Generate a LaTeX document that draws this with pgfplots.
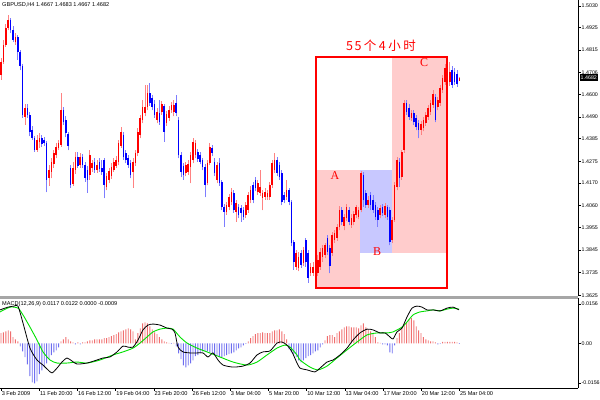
\documentclass[border=0pt]{standalone}
\usepackage{pgfplots}
\pgfplotsset{compat=1.18}
\usepackage{pgfplotstable}
\usepackage{fontspec}
\setmainfont{Liberation Sans}
\newfontfamily\cjk{Noto Sans CJK SC}
\newfontfamily\serifA{Liberation Serif}

\definecolor{barred}{RGB}{255,0,0}
\definecolor{barblue}{RGB}{0,0,255}
\definecolor{wickred}{RGB}{255,130,130}
\definecolor{wickblue}{RGB}{125,125,255}
\definecolor{histred}{RGB}{240,110,110}
\definecolor{histblue}{RGB}{110,110,240}
\definecolor{macdgreen}{RGB}{0,225,0}
\definecolor{zonepink}{RGB}{255,204,204}
\definecolor{zoneblue}{RGB}{200,200,255}

% no visible point marks, only the error bars that make the candles
\pgfplotsset{candle/.style={only marks, mark=*, mark size=0pt, mark options={draw=none, fill=none}}}

% GBPUSD H4 bars, x = bar position on the chart
% up bars (close >= open)
\pgfplotstableread{
x o h l c
1.0 1.4694 1.4777 1.4670 1.4757
3.4 1.4757 1.4864 1.4748 1.4840
5.8 1.4840 1.4942 1.4830 1.4922
8.2 1.4922 1.4985 1.4912 1.4961
15.4 1.4854 1.4898 1.4840 1.4878
25.0 1.4490 1.4553 1.4452 1.4534
37.0 1.4330 1.4403 1.4321 1.4379
39.4 1.4369 1.4413 1.4340 1.4388
49.0 1.4194 1.4257 1.4156 1.4233
51.4 1.4224 1.4291 1.4194 1.4272
53.8 1.4262 1.4330 1.4243 1.4316
56.2 1.4306 1.4364 1.4291 1.4345
58.6 1.4340 1.4379 1.4330 1.4364
61.0 1.4354 1.4607 1.4345 1.4524
73.0 1.4165 1.4272 1.4156 1.4243
75.4 1.4233 1.4321 1.4214 1.4296
80.2 1.4257 1.4316 1.4243 1.4296
89.8 1.4209 1.4330 1.4185 1.4306
92.2 1.4243 1.4282 1.4224 1.4267
97.0 1.4233 1.4282 1.4219 1.4257
106.6 1.4151 1.4219 1.4136 1.4204
109.0 1.4185 1.4243 1.4170 1.4228
111.4 1.4204 1.4267 1.4190 1.4248
113.8 1.4233 1.4291 1.4224 1.4272
116.2 1.4253 1.4301 1.4243 1.4282
118.6 1.4272 1.4379 1.4257 1.4364
121.0 1.4350 1.4442 1.4340 1.4418
133.0 1.4224 1.4291 1.4146 1.4272
135.4 1.4267 1.4330 1.4253 1.4316
137.8 1.4316 1.4437 1.4301 1.4418
140.2 1.4403 1.4500 1.4388 1.4486
142.6 1.4476 1.4573 1.4461 1.4539
145.0 1.4510 1.4646 1.4495 1.4539
147.4 1.4539 1.4646 1.4524 1.4607
157.0 1.4476 1.4534 1.4461 1.4515
161.8 1.4515 1.4568 1.4500 1.4553
166.6 1.4461 1.4519 1.4447 1.4505
169.0 1.4486 1.4544 1.4471 1.4524
171.4 1.4524 1.4563 1.4510 1.4549
173.8 1.4515 1.4573 1.4495 1.4549
185.8 1.4219 1.4272 1.4204 1.4257
188.2 1.4224 1.4282 1.4209 1.4262
190.6 1.4248 1.4321 1.4170 1.4306
193.0 1.4282 1.4388 1.4267 1.4369
195.4 1.4306 1.4379 1.4291 1.4364
207.4 1.4170 1.4282 1.4160 1.4267
209.8 1.4267 1.4364 1.4257 1.4345
217.0 1.4185 1.4272 1.4170 1.4257
226.6 1.4029 1.4078 1.4015 1.4063
229.0 1.4054 1.4117 1.4039 1.4102
231.4 1.4078 1.4146 1.4063 1.4126
236.2 1.4029 1.4088 1.3981 1.4073
245.8 1.4015 1.4078 1.4000 1.4063
248.2 1.4039 1.4126 1.4025 1.4112
250.6 1.4088 1.4156 1.4073 1.4136
257.8 1.4126 1.4185 1.4112 1.4170
260.2 1.4122 1.4233 1.4107 1.4151
262.6 1.4097 1.4136 1.4039 1.4122
265.0 1.4102 1.4146 1.4088 1.4126
267.4 1.4102 1.4136 1.4088 1.4122
269.8 1.4102 1.4175 1.4088 1.4160
272.2 1.4160 1.4282 1.4146 1.4267
274.6 1.4233 1.4316 1.4219 1.4282
286.6 1.4102 1.4185 1.4088 1.4136
296.2 1.3763 1.3845 1.3748 1.3830
298.6 1.3758 1.3835 1.3743 1.3811
303.4 1.3782 1.3860 1.3767 1.3845
310.6 1.3733 1.3782 1.3719 1.3763
313.0 1.3733 1.3787 1.3719 1.3763
317.8 1.3733 1.3821 1.3719 1.3797
320.2 1.3763 1.3855 1.3748 1.3835
322.6 1.3811 1.3869 1.3787 1.3855
325.0 1.3821 1.3879 1.3806 1.3869
332.2 1.3830 1.3932 1.3816 1.3918
334.6 1.3894 1.3942 1.3879 1.3927
337.0 1.3903 1.3971 1.3889 1.3957
339.4 1.3957 1.4059 1.3942 1.4039
344.2 1.3962 1.4020 1.3942 1.4005
346.6 1.4000 1.4068 1.3986 1.4054
351.4 1.3966 1.4020 1.3952 1.4000
353.8 1.3981 1.4034 1.3966 1.4020
356.2 1.4015 1.4063 1.4000 1.4054
358.6 1.4005 1.4054 1.3995 1.4039
361.0 1.4039 1.4228 1.4029 1.4219
368.2 1.4063 1.4107 1.4049 1.4088
380.2 1.4015 1.4063 1.4000 1.4049
385.0 1.4015 1.4073 1.4000 1.4059
392.2 1.3894 1.4005 1.3879 1.3991
394.6 1.3991 1.4175 1.3981 1.4160
397.0 1.4151 1.4296 1.4136 1.4282
401.8 1.4199 1.4330 1.4185 1.4321
404.2 1.4330 1.4573 1.4316 1.4558
411.4 1.4486 1.4524 1.4471 1.4510
421.0 1.4427 1.4471 1.4403 1.4456
423.4 1.4437 1.4490 1.4422 1.4476
425.8 1.4461 1.4515 1.4447 1.4500
428.2 1.4490 1.4549 1.4476 1.4534
430.6 1.4515 1.4573 1.4500 1.4558
433.0 1.4549 1.4621 1.4534 1.4602
437.8 1.4539 1.4587 1.4524 1.4573
440.2 1.4558 1.4646 1.4544 1.4631
442.6 1.4621 1.4694 1.4607 1.4680
445.0 1.4660 1.4748 1.4646 1.4728
449.8 1.4660 1.4757 1.4641 1.4709
459.4 1.4667 1.4683 1.4667 1.4682
}\upbars

% down bars (close < open)
\pgfplotstableread{
x o h l c
10.6 1.4961 1.4971 1.4898 1.4912
13.0 1.4912 1.4932 1.4854 1.4864
17.8 1.4878 1.4888 1.4767 1.4806
20.2 1.4806 1.4815 1.4718 1.4738
22.6 1.4738 1.4748 1.4486 1.4500
27.4 1.4534 1.4553 1.4486 1.4500
29.8 1.4500 1.4515 1.4398 1.4418
32.2 1.4427 1.4447 1.4379 1.4388
34.6 1.4388 1.4398 1.4321 1.4330
41.8 1.4388 1.4403 1.4345 1.4359
44.2 1.4379 1.4393 1.4350 1.4364
46.6 1.4364 1.4374 1.4126 1.4185
63.4 1.4524 1.4539 1.4452 1.4466
65.8 1.4476 1.4495 1.4393 1.4413
68.2 1.4408 1.4418 1.4330 1.4350
70.6 1.4243 1.4257 1.4146 1.4160
77.8 1.4296 1.4321 1.4243 1.4253
82.6 1.4296 1.4311 1.4243 1.4257
85.0 1.4257 1.4272 1.4175 1.4194
87.4 1.4233 1.4253 1.4122 1.4185
94.6 1.4272 1.4291 1.4219 1.4233
99.4 1.4272 1.4291 1.4224 1.4238
101.8 1.4243 1.4282 1.4209 1.4224
104.2 1.4282 1.4291 1.4097 1.4160
123.4 1.4403 1.4418 1.4282 1.4296
125.8 1.4316 1.4330 1.4267 1.4282
128.2 1.4291 1.4306 1.4243 1.4257
130.6 1.4267 1.4282 1.4194 1.4209
149.8 1.4607 1.4655 1.4544 1.4558
152.2 1.4583 1.4597 1.4524 1.4539
154.6 1.4553 1.4573 1.4486 1.4500
159.4 1.4510 1.4573 1.4452 1.4466
164.2 1.4544 1.4553 1.4369 1.4418
176.2 1.4558 1.4597 1.4495 1.4510
178.6 1.4476 1.4490 1.4291 1.4306
181.0 1.4306 1.4321 1.4199 1.4224
183.4 1.4253 1.4267 1.4185 1.4209
197.8 1.4321 1.4335 1.4272 1.4287
200.2 1.4306 1.4321 1.4262 1.4272
202.6 1.4282 1.4291 1.4233 1.4248
205.0 1.4248 1.4262 1.4102 1.4160
212.2 1.4340 1.4354 1.4301 1.4316
214.6 1.4272 1.4291 1.4204 1.4219
219.4 1.4267 1.4291 1.4156 1.4170
221.8 1.4175 1.4185 1.4039 1.4054
224.2 1.4054 1.4068 1.3957 1.4029
233.8 1.4122 1.4136 1.4025 1.4039
238.6 1.4054 1.4068 1.4000 1.4015
241.0 1.4049 1.4063 1.3981 1.4025
243.4 1.4039 1.4054 1.3991 1.4005
253.0 1.4160 1.4175 1.4073 1.4088
255.4 1.4185 1.4199 1.4131 1.4146
277.0 1.4282 1.4296 1.4204 1.4219
279.4 1.4257 1.4272 1.4185 1.4199
281.8 1.4219 1.4233 1.4063 1.4078
284.2 1.4112 1.4126 1.4073 1.4088
289.0 1.4136 1.4146 1.4063 1.4078
291.4 1.4078 1.4088 1.3864 1.3879
293.8 1.3884 1.3894 1.3748 1.3787
301.0 1.3830 1.3845 1.3758 1.3772
305.8 1.3894 1.3903 1.3763 1.3787
308.2 1.3830 1.3845 1.3685 1.3709
315.4 1.3787 1.3806 1.3661 1.3699
327.4 1.3903 1.3918 1.3821 1.3835
329.8 1.3855 1.3869 1.3733 1.3767
341.8 1.4039 1.4054 1.3966 1.3981
349.0 1.4039 1.4054 1.3966 1.3981
363.4 1.4209 1.4224 1.4054 1.4088
365.8 1.4122 1.4136 1.4049 1.4063
370.6 1.4112 1.4126 1.4039 1.4063
373.0 1.4088 1.4112 1.4025 1.4039
375.4 1.4063 1.4078 1.3991 1.4005
377.8 1.4039 1.4054 1.3957 1.3991
382.6 1.4054 1.4068 1.4010 1.4025
387.4 1.4054 1.4063 1.3991 1.4005
389.8 1.4039 1.4054 1.3869 1.3884
399.4 1.4272 1.4291 1.4151 1.4194
406.6 1.4558 1.4573 1.4500 1.4515
409.0 1.4534 1.4553 1.4476 1.4490
413.8 1.4510 1.4524 1.4452 1.4466
416.2 1.4486 1.4500 1.4427 1.4442
418.6 1.4461 1.4476 1.4388 1.4427
435.4 1.4587 1.4602 1.4466 1.4476
447.4 1.4752 1.4777 1.4655 1.4670
452.2 1.4718 1.4738 1.4631 1.4646
454.6 1.4709 1.4728 1.4646 1.4660
457.0 1.4699 1.4718 1.4636 1.4650
}\downbars

% MACD histogram
\pgfplotstableread{
x v
1.0 0.0040
3.4 0.0043
5.8 0.0047
8.2 0.0051
10.6 0.0047
13.0 0.0024
15.4 0.0016
17.8 0.0008
20.2 -0.0012
22.6 -0.0032
25.0 -0.0055
27.4 -0.0083
29.8 -0.0130
32.2 -0.0154
34.6 -0.0158
37.0 -0.0150
39.4 -0.0122
41.8 -0.0107
44.2 -0.0095
46.6 -0.0079
49.0 -0.0063
51.4 -0.0047
53.8 -0.0036
56.2 -0.0028
58.6 -0.0016
61.0 0.0008
63.4 0.0016
65.8 0.0024
68.2 0.0016
70.6 0.0008
73.0 0.0004
75.4 -0.0004
77.8 0.0004
80.2 -0.0004
82.6 0.0004
85.0 0.0004
87.4 0.0008
89.8 0.0012
92.2 0.0012
94.6 0.0016
97.0 0.0016
99.4 0.0016
101.8 0.0016
104.2 0.0020
106.6 0.0020
109.0 0.0024
111.4 0.0028
113.8 0.0032
116.2 0.0036
118.6 0.0043
121.0 0.0047
123.4 0.0051
125.8 0.0055
128.2 0.0059
130.6 0.0055
133.0 0.0047
135.4 0.0016
137.8 0.0040
140.2 0.0059
142.6 0.0079
145.0 0.0083
147.4 0.0079
149.8 0.0067
152.2 0.0055
154.6 0.0043
157.0 0.0036
159.4 0.0024
161.8 0.0016
164.2 0.0008
166.6 0.0004
169.0 0.0002
171.4 -0.0002
173.8 0.0002
176.2 -0.0012
178.6 -0.0040
181.0 -0.0063
183.4 -0.0087
185.8 -0.0095
188.2 -0.0087
190.6 -0.0079
193.0 -0.0067
195.4 -0.0051
197.8 -0.0047
200.2 -0.0040
202.6 -0.0032
205.0 -0.0032
207.4 -0.0032
209.8 -0.0036
212.2 -0.0040
214.6 -0.0047
217.0 -0.0051
219.4 -0.0055
221.8 -0.0055
224.2 -0.0051
226.6 -0.0047
229.0 -0.0043
231.4 -0.0040
233.8 -0.0036
236.2 -0.0028
238.6 -0.0020
241.0 -0.0016
243.4 -0.0008
245.8 -0.0002
248.2 0.0008
250.6 0.0020
253.0 0.0028
255.4 0.0036
257.8 0.0040
260.2 0.0040
262.6 0.0043
265.0 0.0040
267.4 0.0040
269.8 0.0040
272.2 0.0047
274.6 0.0051
277.0 0.0051
279.4 0.0055
281.8 0.0047
284.2 0.0036
286.6 0.0016
289.0 -0.0024
291.4 -0.0036
293.8 -0.0043
296.2 -0.0055
298.6 -0.0067
301.0 -0.0075
303.4 -0.0067
305.8 -0.0059
308.2 -0.0051
310.6 -0.0047
313.0 -0.0040
315.4 -0.0032
317.8 -0.0028
320.2 -0.0016
322.6 -0.0004
325.0 0.0012
327.4 0.0028
329.8 0.0032
332.2 0.0032
334.6 0.0024
337.0 0.0040
339.4 0.0047
341.8 0.0055
344.2 0.0063
346.6 0.0067
349.0 0.0067
351.4 0.0063
353.8 0.0063
356.2 0.0063
358.6 0.0059
361.0 0.0071
363.4 0.0079
365.8 0.0063
368.2 0.0055
370.6 0.0047
373.0 0.0036
375.4 0.0024
377.8 0.0004
380.2 0.0002
382.6 -0.0004
385.0 -0.0004
387.4 -0.0008
389.8 -0.0036
392.2 -0.0040
394.6 -0.0008
397.0 0.0020
399.4 0.0040
401.8 0.0059
404.2 0.0075
406.6 0.0083
409.0 0.0095
411.4 0.0099
413.8 0.0091
416.2 0.0067
418.6 0.0051
421.0 0.0040
423.4 0.0024
425.8 0.0016
428.2 0.0012
430.6 0.0008
433.0 0.0008
435.4 0.0004
437.8 -0.0004
440.2 -0.0002
442.6 0.0006
445.0 0.0006
447.4 0.0006
449.8 0.0006
452.2 0.0006
454.6 0.0006
457.0 0.0004
459.4 -0.0002
}\hist

% MACD main line
\pgfplotstableread{
x v
0 0.0132
8 0.0143
14 0.0147
18 0.0147
23 0.0080
30 -0.0019
37 -0.0066
43 -0.0086
48 -0.0105
52 -0.0117
57 -0.0098
62 -0.0074
67 -0.0058
72 -0.0070
77 -0.0082
87 -0.0078
97 -0.0066
103 -0.0058
110 -0.0054
117 -0.0034
123 -0.0011
128 -0.0015
133 -0.0015
138 0.0013
143 0.0053
148 0.0072
153 0.0076
160 0.0072
167 0.0060
172 0.0056
175 0.0041
178 -0.0015
183 -0.0034
190 -0.0038
197 -0.0038
203 -0.0038
208 -0.0054
213 -0.0038
218 -0.0066
223 -0.0086
233 -0.0094
243 -0.0090
250 -0.0078
257 -0.0046
263 -0.0034
270 -0.0030
277 0.0001
282 0.0005
287 -0.0007
292 -0.0034
297 -0.0078
300 -0.0098
307 -0.0105
315 -0.0113
320 -0.0098
327 -0.0074
333 -0.0066
340 -0.0046
347 -0.0019
353 0.0013
360 0.0041
367 0.0056
373 0.0053
380 0.0041
385 0.0041
390 0.0025
393 0.0017
397 0.0045
402 0.0060
407 0.0104
412 0.0139
417 0.0147
422 0.0143
427 0.0132
433 0.0132
440 0.0128
447 0.0139
453 0.0143
459 0.0132
}\macdmain

% MACD signal line
\pgfplotstableread{
x v
0 0.0124
10 0.0143
18 0.0139
23 0.0112
30 0.0064
37 0.0013
43 -0.0034
50 -0.0066
57 -0.0078
67 -0.0078
77 -0.0074
87 -0.0078
100 -0.0066
113 -0.0046
123 -0.0034
133 -0.0019
140 0.0001
147 0.0025
153 0.0045
160 0.0056
167 0.0060
173 0.0056
180 0.0025
187 0.0001
197 -0.0019
207 -0.0034
220 -0.0054
233 -0.0074
247 -0.0086
257 -0.0074
267 -0.0046
277 -0.0019
285 -0.0007
290 -0.0015
297 -0.0046
300 -0.0066
310 -0.0094
318 -0.0105
327 -0.0090
337 -0.0058
347 -0.0026
357 0.0005
367 0.0033
377 0.0041
387 0.0041
393 0.0045
402 0.0064
407 0.0084
413 0.0112
420 0.0124
427 0.0128
433 0.0132
440 0.0128
447 0.0135
453 0.0139
459 0.0135
}\macdsignal

\begin{document}
\begin{tikzpicture}
\useasboundingbox (0,0) rectangle (600bp,400bp);

% price window
\begin{axis}[
  at={(0bp,104bp)}, anchor=south west,
  scale only axis, width=578bp, height=296bp,
  xmin=0, xmax=578, ymin=1.36218, ymax=1.5058,
  axis x line=none, axis y line*=right,
  axis line style={line width=0.8bp, black},
  xtick=\empty,
  ytick={1.5030,1.4925,1.4815,1.4706,1.4600,1.4490,1.4385,1.4275,1.4170,1.4060,1.3955,1.3845,1.3735,1.3625},
  yticklabels={1.5030,1.4925,1.4815,1.4706,1.4600,1.4490,1.4385,1.4275,1.4170,1.4060,1.3955,1.3845,1.3735,1.3625},
  yticklabel style={font=\fontsize{5.3bp}{6bp}\selectfont, anchor=west, inner sep=1bp},
  tick align=outside, major tick length=2.5bp,
  ytick style={line width=0.5bp, black},
  clip=false,
]
\fill[zonepink] (axis cs:316,1.4233) rectangle (axis cs:360,1.3661);
\fill[zoneblue] (axis cs:360,1.4233) rectangle (axis cs:392,1.3830);
\fill[zonepink] (axis cs:392,1.4781) rectangle (axis cs:447,1.3830);

% wicks
\addplot[candle, error bars/.cd, y dir=plus, y explicit, error mark=none,
  error bar style={draw=wickred, line width=0.8bp}]
  table[x=x, y=l, y error expr=\thisrow{h}-\thisrow{l}] {\upbars};
\addplot[candle, error bars/.cd, y dir=plus, y explicit, error mark=none,
  error bar style={draw=wickblue, line width=0.8bp}]
  table[x=x, y=l, y error expr=\thisrow{h}-\thisrow{l}] {\downbars};
% bodies
\addplot[candle, error bars/.cd, y dir=both, y explicit, error mark=none,
  error bar style={draw=barred, line width=1.6bp}]
  table[x=x, y expr=(\thisrow{o}+\thisrow{c})/2, y error expr=abs(\thisrow{c}-\thisrow{o})/2] {\upbars};
\addplot[candle, error bars/.cd, y dir=both, y explicit, error mark=none,
  error bar style={draw=barblue, line width=1.6bp}]
  table[x=x, y expr=(\thisrow{o}+\thisrow{c})/2, y error expr=abs(\thisrow{c}-\thisrow{o})/2] {\downbars};

\draw[red, line width=2.2bp] (axis cs:316,1.4781) rectangle (axis cs:447,1.3661);
\node[text=red, font=\serifA\fontsize{12bp}{12bp}\selectfont] at (axis cs:335,1.4204) {A};
\node[text=red, font=\serifA\fontsize{12bp}{12bp}\selectfont] at (axis cs:377,1.3835) {B};
\node[text=red, font=\serifA\fontsize{12bp}{12bp}\selectfont] at (axis cs:424,1.4752) {C};
\node[text=red, font=\cjk\fontsize{12.5bp}{13bp}\selectfont] at (axis cs:381,1.4835)
  {5\hspace{1.5bp}5\hspace{2.5bp}个\hspace{2.5bp}4\hspace{2.5bp}小\hspace{2.5bp}时};
\node[fill=black, text=white, anchor=west, inner xsep=1bp, inner ysep=1.2bp,
  font=\fontsize{5.3bp}{6bp}\selectfont] at (axis cs:579.5,1.4682) {1.4682};
\end{axis}

% MACD window
\begin{axis}[
  at={(0bp,12bp)}, anchor=south west,
  scale only axis, width=578bp, height=90bp,
  xmin=0, xmax=578, ymin=-0.01766, ymax=0.0179,
  axis x line*=bottom, axis y line*=right,
  axis line style={line width=0.8bp, black},
  xtick={1.1,39.3,77.5,115.7,153.9,192.0,230.2,268.4,306.6,344.8,383.0,421.2,459.3},
  xticklabels={3 Feb 2009, 11 Feb 20:00, 16 Feb 12:00, 19 Feb 04:00, 23 Feb 20:00,
    26 Feb 12:00, 3 Mar 04:00, 5 Mar 20:00, 10 Mar 12:00, 13 Mar 04:00,
    17 Mar 20:00, 20 Mar 12:00, 25 Mar 04:00},
  xticklabel style={font=\fontsize{5.6bp}{6.5bp}\selectfont, anchor=north west, inner sep=0.5bp, yshift=-0.5bp},
  scaled y ticks=false,
  ytick={-0.0156,0,0.0156},
  yticklabels={-0.0156,0.00,0.0156},
  yticklabel style={font=\fontsize{5.3bp}{6bp}\selectfont, anchor=west, inner sep=1bp},
  tick align=outside, major tick length=2.5bp,
  tick style={line width=0.5bp, black},
  clip=false,
]
\addplot[ybar, bar width=0.9bp, bar shift=0pt, fill=histred, draw=none,
  y filter/.expression={y>0 ? y : nan}] table[x=x, y=v] {\hist};
\addplot[ybar, bar width=0.9bp, bar shift=0pt, fill=histblue, draw=none,
  y filter/.expression={y<0 ? y : nan}] table[x=x, y=v] {\hist};
\addplot[macdgreen, line width=0.9bp, smooth, tension=0.4] table[x=x, y=v] {\macdsignal};
\addplot[black, line width=0.8bp, smooth, tension=0.4] table[x=x, y=v] {\macdmain};
\end{axis}

\fill[gray!70] (0,101.4bp) rectangle (578bp,104bp);
\node[anchor=west, inner sep=0, font=\fontsize{5.6bp}{6.5bp}\selectfont] at (2bp,395bp)
  {GBPUSD,H4 1.4667 1.4683 1.4667 1.4682};
\node[anchor=west, inner sep=0, font=\fontsize{5.6bp}{6.5bp}\selectfont] at (2bp,96bp)
  {MACD(12,26,9) 0.0117 0.0122 0.0000 -0.0009};
\end{tikzpicture}
\end{document}
